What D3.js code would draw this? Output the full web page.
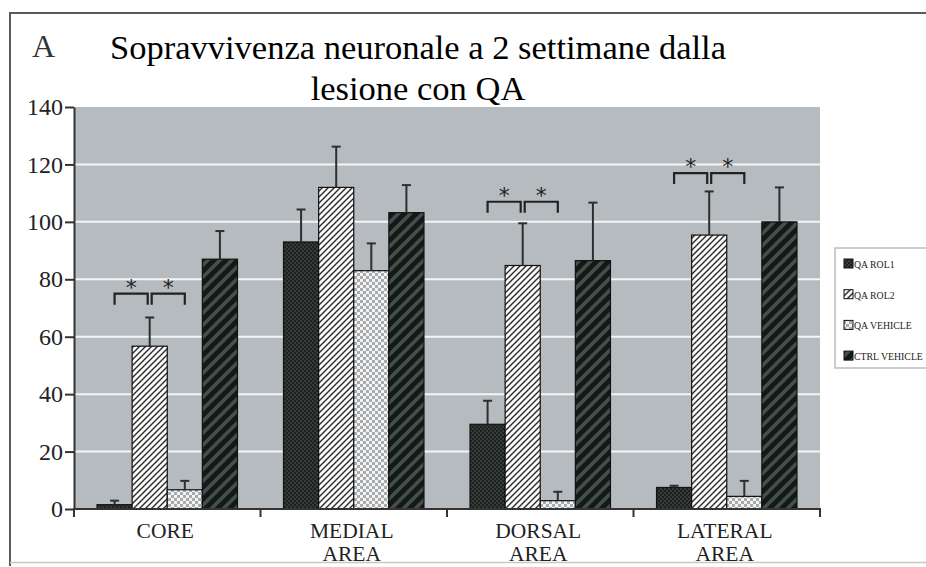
<!DOCTYPE html>
<html>
<head>
<meta charset="utf-8">
<script src="https://cdn.jsdelivr.net/npm/d3@7"></script>
<style>
  html, body { margin: 0; padding: 0; background: #fff; }
  svg { display: block; }
</style>
</head>
<body>
<svg id="chart" width="926" height="567"></svg>
<script>
// Neuronal survival two weeks after the QA lesion, by striatal area
const categories = ["CORE", "MEDIAL AREA", "DORSAL AREA", "LATERAL AREA"];
const seriesNames = ["QA ROL1", "QA ROL2", "QA VEHICLE", "CTRL VEHICLE"];

// mean values per area
const rol1Mean    = [1.5, 93, 29.5, 7.5];
const rol2Mean    = [56.7, 112, 84.8, 95.4];
const vehicleMean = [6.7, 83, 2.9, 4.4];
const ctrlMean    = [87, 103.2, 86.5, 100];

// error (upper whisker length)
const rol1Err    = [1.4, 11.3, 8.2, 0.6];
const rol2Err    = [10, 14.2, 14.7, 15.2];
const vehicleErr = [3.1, 9.5, 3.1, 5.4];
const ctrlErr    = [9.8, 9.6, 20.2, 12];

const yTicks = [0, 20, 40, 60, 80, 100, 120, 140];

// significance brackets: area and bracket level (y units)
const sigAreas  = ["CORE", "DORSAL AREA", "LATERAL AREA"];
const sigLevels = [75, 107, 117];

const means = [rol1Mean, rol2Mean, vehicleMean, ctrlMean];
const errs  = [rol1Err, rol2Err, vehicleErr, ctrlErr];

const svg = d3.select("#chart");
const serif = "'Liberation Serif', 'Times New Roman', serif";

// ---- patterns ----
const defs = svg.append("defs");

// dark fine checker
const p0 = defs.append("pattern").attr("id", "pat0")
  .attr("patternUnits", "userSpaceOnUse").attr("width", 4).attr("height", 4);
p0.append("rect").attr("width", 4).attr("height", 4).attr("fill", "#1d2220");
p0.append("rect").attr("width", 2).attr("height", 2).attr("fill", "#343b38");
p0.append("rect").attr("x", 2).attr("y", 2).attr("width", 2).attr("height", 2).attr("fill", "#343b38");

// white with thin dark diagonals
const p1 = defs.append("pattern").attr("id", "pat1")
  .attr("patternUnits", "userSpaceOnUse").attr("width", 6).attr("height", 6);
p1.append("rect").attr("width", 6).attr("height", 6).attr("fill", "#fafafa");
p1.append("path").attr("d", "M0,6 L6,0 M-1,1 L1,-1 M5,7 L7,5")
  .attr("stroke", "#2a2a2a").attr("stroke-width", 1.4);

// light checker
const p2 = defs.append("pattern").attr("id", "pat2")
  .attr("patternUnits", "userSpaceOnUse").attr("width", 6).attr("height", 6);
p2.append("rect").attr("width", 6).attr("height", 6).attr("fill", "#f4f4f4");
p2.append("rect").attr("width", 3).attr("height", 3).attr("fill", "#a7abad");
p2.append("rect").attr("x", 3).attr("y", 3).attr("width", 3).attr("height", 3).attr("fill", "#a7abad");

// black with wide grey diagonals
const p3 = defs.append("pattern").attr("id", "pat3")
  .attr("patternUnits", "userSpaceOnUse").attr("width", 12).attr("height", 12);
p3.append("rect").attr("width", 12).attr("height", 12).attr("fill", "#121916");
p3.append("path").attr("d", "M0,12 L12,0 M-3,3 L3,-3 M9,15 L15,9")
  .attr("stroke", "#45504c").attr("stroke-width", 3.5);

const fills = ["url(#pat0)", "url(#pat1)", "url(#pat2)", "url(#pat3)"];

// ---- frame ----
svg.append("path").attr("d", "M10,566 L10,13 L926,13")
  .attr("fill", "none").attr("stroke", "#5a5a5a").attr("stroke-width", 2);
svg.append("line").attr("x1", 10).attr("x2", 926).attr("y1", 562.5).attr("y2", 562.5)
  .attr("stroke", "#c8c8c8").attr("stroke-width", 1.5);

// ---- titles ----
svg.append("text").attr("x", 32).attr("y", 57)
  .attr("font-family", serif).attr("font-size", 32).attr("fill", "#333").text("A");
const title = svg.append("text").attr("text-anchor", "middle")
  .attr("font-family", serif).attr("font-size", 34.5).attr("fill", "#000");
title.append("tspan").attr("x", 418).attr("y", 59).text("Sopravvivenza neuronale a 2 settimane dalla");
title.append("tspan").attr("x", 418).attr("y", 100).text("lesione con QA");

// ---- scales ----
const plot = { left: 74, right: 820, top: 107, bottom: 509 };
const x = d3.scaleBand().domain(categories).range([plot.left, plot.right]);
const bw = x.bandwidth();
const xs = d3.scaleBand().domain(d3.range(seriesNames.length))
  .range([bw * 0.1235, bw * (1 - 0.1235)]);
const y = d3.scaleLinear().domain([0, 140]).range([plot.bottom, plot.top]);

// plot background and gridlines
svg.append("rect").attr("x", plot.left).attr("y", plot.top)
  .attr("width", plot.right - plot.left).attr("height", plot.bottom - plot.top)
  .attr("fill", "#b5bbbe");
svg.append("g").selectAll("line").data(yTicks.filter(t => t > 0 && t < 140)).join("line")
  .attr("x1", plot.left).attr("x2", plot.right)
  .attr("y1", d => y(d)).attr("y2", d => y(d))
  .attr("stroke", "#f4f6f6").attr("stroke-width", 2);

// ---- bars ----
const barData = [];
categories.forEach((c, ci) => {
  seriesNames.forEach((s, si) => {
    barData.push({ c, si, v: means[si][ci], e: errs[si][ci] });
  });
});

const bars = svg.append("g");
bars.selectAll("rect").data(barData).join("rect")
  .attr("x", d => x(d.c) + xs(d.si))
  .attr("y", d => y(d.v))
  .attr("width", xs.bandwidth())
  .attr("height", d => y(0) - y(d.v))
  .attr("fill", d => fills[d.si])
  .attr("stroke", "#111").attr("stroke-width", 1.2);

// error whiskers (upper only)
const err = svg.append("g").attr("stroke", "#2e2e2e").attr("stroke-width", 2);
barData.forEach(d => {
  const cx = x(d.c) + xs(d.si) + xs.bandwidth() / 2;
  err.append("line").attr("x1", cx).attr("x2", cx)
    .attr("y1", y(d.v)).attr("y2", y(d.v + d.e));
  err.append("line").attr("x1", cx - 4.5).attr("x2", cx + 4.5)
    .attr("y1", y(d.v + d.e)).attr("y2", y(d.v + d.e));
});

// ---- axes ----
const yAxis = svg.append("g").attr("transform", `translate(${plot.left},0)`)
  .call(d3.axisLeft(y).tickValues(yTicks).tickSize(9).tickSizeOuter(0).tickPadding(2));
yAxis.select(".domain").attr("stroke", "#333").attr("stroke-width", 2);
yAxis.selectAll(".tick line").attr("stroke", "#333").attr("stroke-width", 2);
yAxis.selectAll(".tick text").attr("font-family", serif).attr("font-size", 24).attr("fill", "#222");

// baseline and category separators
svg.append("line").attr("x1", plot.left - 1).attr("x2", plot.right + 1)
  .attr("y1", y(0)).attr("y2", y(0)).attr("stroke", "#333").attr("stroke-width", 2);
const bounds = categories.map(c => x(c)).concat([x(categories[categories.length - 1]) + bw]);
svg.append("g").selectAll("line").data(bounds).join("line")
  .attr("x1", d => d).attr("x2", d => d)
  .attr("y1", y(0)).attr("y2", y(0) + 8)
  .attr("stroke", "#333").attr("stroke-width", 2);

// category labels
const xl = svg.append("g").attr("font-family", serif).attr("font-size", 21.5)
  .attr("fill", "#222").attr("text-anchor", "middle");
categories.forEach(c => {
  const t = xl.append("text");
  c.split(" ").forEach((w, i) => {
    t.append("tspan").attr("x", x(c) + bw / 2 - 2).attr("y", 538 + i * 23).text(w);
  });
});

// ---- significance brackets ----
const sig = svg.append("g");
sigAreas.forEach((c, i) => {
  const top = y(sigLevels[i]);
  const c0 = x(c) + xs(0) + xs.bandwidth() / 2;
  const c1 = x(c) + xs(1) + xs.bandwidth() / 2;
  const c2 = x(c) + xs(2) + xs.bandwidth() / 2;
  const spans = [[c0, c1 - 2], [c1 + 2, c2]];
  spans.forEach(([a, b]) => {
    sig.append("path")
      .attr("d", `M${a},${top + 11}V${top}H${b}V${top + 11}`)
      .attr("fill", "none").attr("stroke", "#222").attr("stroke-width", 2.2);
    sig.append("text").attr("x", (a + b) / 2).attr("y", top + 1)
      .attr("text-anchor", "middle").attr("font-family", "'DejaVu Sans', sans-serif")
      .attr("font-size", 22).attr("fill", "#222").text("*");
  });
});

// ---- legend ----
const lg = svg.append("g");
lg.append("rect").attr("x", 835).attr("y", 248).attr("width", 110).attr("height", 120)
  .attr("fill", "#fff").attr("stroke", "#bdbdbd").attr("stroke-width", 1.5);
seriesNames.forEach((s, i) => {
  const cy = 264 + i * 30.7;
  lg.append("rect").attr("x", 844).attr("y", cy - 5).attr("width", 9).attr("height", 9)
    .attr("fill", fills[i]).attr("stroke", "#111").attr("stroke-width", 1);
  lg.append("text").attr("x", 854).attr("y", cy + 4)
    .attr("font-family", serif).attr("font-size", 9.8).attr("fill", "#222").text(s);
});
</script>
</body>
</html>
